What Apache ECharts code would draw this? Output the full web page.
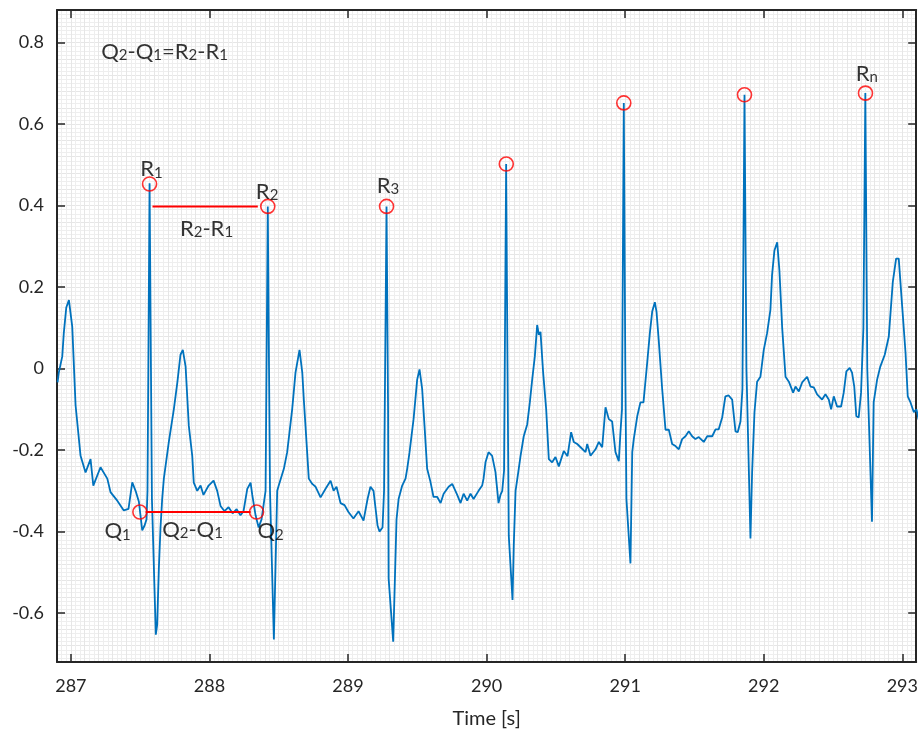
<!DOCTYPE html>
<html>
<head>
<meta charset="utf-8">
<script src="https://cdn.jsdelivr.net/npm/echarts@6/dist/echarts.min.js"></script>
<style>
html, body { margin: 0; padding: 0; background: #fff; }
#main { width: 921px; height: 734px; }
</style>
</head>
<body>
<div id="main"></div>
<script>
// ECG trace
var time = [
	286.904, 286.913, 286.938, 286.949, 286.967, 286.986, 287.010, 287.034, 287.070, 287.106,
	287.142, 287.162, 287.214, 287.263, 287.286, 287.335, 287.382, 287.416, 287.443, 287.467,
	287.491, 287.515, 287.532, 287.546, 287.553, 287.568, 287.578, 287.585, 287.613, 287.623,
	287.635, 287.647, 287.659, 287.671, 287.707, 287.743, 287.768, 287.791, 287.808, 287.828,
	287.851, 287.876, 287.887, 287.912, 287.936, 287.957, 287.994, 288.030, 288.056, 288.080,
	288.109, 288.138, 288.167, 288.196, 288.224, 288.246, 288.273, 288.297, 288.309, 288.333,
	288.355, 288.376, 288.405, 288.421, 288.430, 288.437, 288.465, 288.489, 288.500, 288.537,
	288.561, 288.597, 288.621, 288.650, 288.670, 288.681, 288.693, 288.717, 288.742, 288.766,
	288.802, 288.838, 288.874, 288.896, 288.917, 288.946, 288.975, 289.003, 289.039, 289.076,
	289.112, 289.141, 289.162, 289.184, 289.213, 289.227, 289.249, 289.260, 289.278, 289.289,
	289.293, 289.326, 289.350, 289.365, 289.391, 289.415, 289.427, 289.444, 289.473, 289.499,
	289.516, 289.535, 289.552, 289.571, 289.595, 289.617, 289.644, 289.668, 289.690, 289.726,
	289.752, 289.762, 289.788, 289.812, 289.834, 289.860, 289.884, 289.906, 289.942, 289.968,
	289.978, 289.992, 290.014, 290.040, 290.064, 290.086, 290.100, 290.113, 290.126, 290.141,
	290.151, 290.160, 290.178, 290.187, 290.196, 290.209, 290.232, 290.245, 290.268, 290.293,
	290.312, 290.329, 290.348, 290.365, 290.377, 290.389, 290.408, 290.430, 290.449, 290.473,
	290.497, 290.521, 290.557, 290.584, 290.610, 290.629, 290.654, 290.678, 290.714, 290.726,
	290.750, 290.786, 290.810, 290.834, 290.858, 290.882, 290.906, 290.930, 290.954, 290.966,
	290.977, 290.990, 291.001, 291.009, 291.038, 291.051, 291.062, 291.087, 291.110, 291.132,
	291.159, 291.178, 291.195, 291.214, 291.226, 291.242, 291.267, 291.291, 291.315, 291.339,
	291.363, 291.387, 291.411, 291.435, 291.459, 291.483, 291.507, 291.531, 291.567, 291.592,
	291.628, 291.652, 291.675, 291.700, 291.723, 291.747, 291.772, 291.796, 291.812, 291.832,
	291.846, 291.861, 291.875, 291.904, 291.916, 291.933, 291.952, 291.976, 292.000, 292.024,
	292.048, 292.060, 292.077, 292.097, 292.113, 292.133, 292.157, 292.181, 292.212, 292.229,
	292.253, 292.277, 292.313, 292.337, 292.361, 292.385, 292.421, 292.445, 292.469, 292.486,
	292.505, 292.529, 292.558, 292.577, 292.596, 292.620, 292.637, 292.653, 292.668, 292.685,
	292.702, 292.719, 292.733, 292.747, 292.781, 292.793, 292.818, 292.841, 292.873, 292.902,
	292.931, 292.955, 292.974, 292.999, 293.023, 293.039, 293.059, 293.083, 293.102, 293.117
];
var ecg = [
	-0.034, -0.010, 0.030, 0.087, 0.150, 0.168, 0.103, -0.090, -0.214, -0.255,
	-0.222, -0.287, -0.242, -0.270, -0.303, -0.324, -0.348, -0.344, -0.279, -0.300,
	-0.327, -0.397, -0.385, -0.370, -0.300, 0.455, 0.000, -0.320, -0.653, -0.628,
	-0.490, -0.390, -0.320, -0.270, -0.180, -0.100, -0.035, 0.034, 0.046, 0.005,
	-0.140, -0.214, -0.280, -0.300, -0.287, -0.310, -0.287, -0.275, -0.300, -0.337,
	-0.350, -0.340, -0.355, -0.345, -0.360, -0.350, -0.295, -0.280, -0.310, -0.360,
	-0.390, -0.370, -0.300, 0.398, 0.000, -0.300, -0.665, -0.300, -0.287, -0.246,
	-0.205, -0.100, -0.010, 0.046, -0.010, -0.076, -0.140, -0.270, -0.283, -0.290,
	-0.316, -0.295, -0.275, -0.300, -0.290, -0.330, -0.335, -0.352, -0.368, -0.350,
	-0.373, -0.320, -0.290, -0.300, -0.385, -0.400, -0.390, -0.300, 0.398, -0.100,
	-0.515, -0.670, -0.370, -0.320, -0.287, -0.270, -0.246, -0.205, -0.124, -0.027,
	-0.002, -0.050, -0.140, -0.246, -0.278, -0.315, -0.315, -0.330, -0.307, -0.290,
	-0.283, -0.280, -0.310, -0.330, -0.307, -0.324, -0.307, -0.320, -0.300, -0.287,
	-0.270, -0.230, -0.205, -0.214, -0.254, -0.330, -0.310, -0.300, -0.250, 0.502,
	0.000, -0.410, -0.515, -0.568, -0.434, -0.300, -0.246, -0.214, -0.166, -0.137,
	-0.083, -0.027, 0.030, 0.107, 0.083, 0.090, -0.010, -0.100, -0.222, -0.230,
	-0.217, -0.240, -0.202, -0.215, -0.156, -0.180, -0.185, -0.193, -0.205, -0.185,
	-0.214, -0.198, -0.180, -0.193, -0.095, -0.124, -0.130, -0.205, -0.227, -0.156,
	-0.100, 0.652, 0.000, -0.320, -0.478, -0.205, -0.173, -0.117, -0.083, -0.083,
	0.015, 0.087, 0.140, 0.163, 0.140, 0.070, -0.050, -0.150, -0.150, -0.185,
	-0.190, -0.198, -0.173, -0.166, -0.154, -0.166, -0.173, -0.168, -0.180, -0.166,
	-0.166, -0.149, -0.149, -0.120, -0.068, -0.066, -0.076, -0.154, -0.156, -0.130,
	-0.050, 0.672, 0.000, -0.417, -0.254, -0.107, -0.032, -0.020, 0.046, 0.087,
	0.144, 0.230, 0.290, 0.310, 0.240, 0.100, -0.020, -0.032, -0.059, -0.044,
	-0.056, -0.034, -0.020, -0.044, -0.046, -0.063, -0.076, -0.063, -0.076, -0.100,
	-0.068, -0.093, -0.093, -0.059, -0.007, 0.002, -0.010, -0.044, -0.117, -0.120,
	-0.059, 0.100, 0.676, 0.000, -0.376, -0.083, -0.027, 0.005, 0.034, 0.078,
	0.212, 0.270, 0.270, 0.152, 0.039, -0.068, -0.083, -0.107, -0.100, -0.125
];

// marked R peaks and Q points
var rTime = [287.568, 288.421, 289.278, 290.142, 290.990, 291.861, 292.734];
var rValue = [0.453, 0.398, 0.398, 0.502, 0.652, 0.672, 0.676];
var qTime = [287.498, 288.340];
var qValue = [-0.352, -0.352];

// interval bars
var rrTime = [287.589, 288.349];
var rrValue = [0.398, 0.398];
var qqTime = [287.539, 288.297];
var qqValue = [-0.352, -0.352];

// annotations ("_n" = subscript)
var noteText = ['Q_2-Q_1=R_2-R_1', 'R_1', 'R_2', 'R_2-R_1', 'R_3', 'R_n', 'Q_1', 'Q_2-Q_1', 'Q_2'];
var noteTime = [287.676, 287.582, 288.416, 287.979, 289.289, 292.744, 287.337, 287.878, 288.441];
var noteValue = [0.783, 0.495, 0.440, 0.349, 0.455, 0.730, -0.393, -0.390, -0.393];

var xTicks = [287, 288, 289, 290, 291, 292, 293];
var yTicks = [-0.6, -0.4, -0.2, 0, 0.2, 0.4, 0.6, 0.8];
var xName = 'Time [s]';

function zip(a, b) {
	var out = [];
	for(var i = 0; i < a.length; i++) {
		out.push([a[i], b[i]]);
	}
	return out;
}

function toRich(s) {
	return s.replace(/([^_]+?)(?=_|$)|_(\w)/g, function(m, txt, sub) {
		if(sub) return '{s|' + sub + '}';
		return '{m|' + txt + '}';
	});
}

var notes = [];
for(var i = 0; i < noteText.length; i++) {
	notes.push({ value: [noteTime[i], noteValue[i]], txt: noteText[i] });
}

var axisDark = '#262626';
var xMin = 286.9, xMax = 293.1, yMin = -0.72, yMax = 0.88;
var labelFont = 'Lato, "Open Sans", sans-serif';

var myChart = echarts.init(document.getElementById('main'));
var option = {
	animation: false,
	backgroundColor: '#fff',
	grid: { left: 57, right: 4, top: 10, bottom: 71 },
	xAxis: [{
		type: 'value', min: xMin, max: xMax, position: 'bottom',
		name: xName, nameLocation: 'middle', nameGap: 47,
		nameTextStyle: { color: axisDark, fontSize: 20, fontFamily: labelFont },
		axisLine: { show: true, onZero: false, lineStyle: { color: axisDark, width: 2 } },
		axisTick: { show: true, inside: true, length: 8, customValues: xTicks, lineStyle: { color: axisDark, width: 1.5 } },
		axisLabel: { show: true, customValues: xTicks, margin: 15, color: axisDark, fontSize: 18, fontFamily: labelFont },
		splitLine: { show: true, lineStyle: { color: '#d4d4d4', width: 1 } }
	}, {
		// fine grid
		type: 'value', min: xMin, max: xMax, interval: 0.1, position: 'bottom',
		axisLine: { show: false }, axisTick: { show: false }, axisLabel: { show: false },
		splitLine: { show: true, lineStyle: { color: '#e6e6e6', width: 1 } },
		minorTick: { show: false, splitNumber: 3 },
		minorSplitLine: { show: true, lineStyle: { color: '#eeeeee', width: 1 } }
	}, {
		type: 'value', min: xMin, max: xMax, position: 'top',
		axisLine: { show: true, onZero: false, lineStyle: { color: axisDark, width: 2 } },
		axisTick: { show: true, inside: true, length: 8, customValues: xTicks, lineStyle: { color: axisDark, width: 1.5 } },
		axisLabel: { show: false },
		splitLine: { show: false }
	}],
	yAxis: [{
		type: 'value', min: yMin, max: yMax, position: 'left',
		axisLine: { show: true, onZero: false, lineStyle: { color: axisDark, width: 2 } },
		axisTick: { show: true, inside: true, length: 8, customValues: yTicks, lineStyle: { color: axisDark, width: 1.5 } },
		axisLabel: {
			show: true, customValues: yTicks, margin: 13, color: axisDark, fontSize: 18, fontFamily: labelFont,
			formatter: function(v) { return String(Math.round(v * 10) / 10); }
		},
		splitLine: { show: true, lineStyle: { color: '#d4d4d4', width: 1 } }
	}, {
		type: 'value', min: yMin, max: yMax, interval: 0.04, position: 'left',
		axisLine: { show: false }, axisTick: { show: false }, axisLabel: { show: false },
		splitLine: { show: true, lineStyle: { color: '#e6e6e6', width: 1 } },
		minorTick: { show: false, splitNumber: 4 },
		minorSplitLine: { show: true, lineStyle: { color: '#eeeeee', width: 1 } }
	}, {
		type: 'value', min: yMin, max: yMax, position: 'right',
		axisLine: { show: true, onZero: false, lineStyle: { color: axisDark, width: 2 } },
		axisTick: { show: true, inside: true, length: 8, customValues: yTicks, lineStyle: { color: axisDark, width: 1.5 } },
		axisLabel: { show: false },
		splitLine: { show: false }
	}],
	series: [{
		name: 'ECG',
		type: 'line',
		data: zip(time, ecg),
		showSymbol: false,
		clip: true,
		lineStyle: { color: '#0072BD', width: 1.8 },
		z: 2
	}, {
		name: 'RR',
		type: 'line',
		data: zip(rrTime, rrValue),
		showSymbol: false,
		lineStyle: { color: '#ff0000', width: 2 },
		z: 3
	}, {
		name: 'QQ',
		type: 'line',
		data: zip(qqTime, qqValue),
		showSymbol: false,
		lineStyle: { color: '#ff0000', width: 2 },
		z: 3
	}, {
		name: 'R',
		type: 'scatter',
		data: zip(rTime, rValue).concat(zip(qTime, qValue)),
		symbol: 'circle',
		symbolSize: 14,
		itemStyle: { color: 'rgba(0,0,0,0)', borderColor: '#ff0000', borderWidth: 1.6 },
		z: 4
	}, {
		name: 'notes',
		type: 'scatter',
		data: notes,
		symbolSize: 1,
		itemStyle: { color: 'rgba(0,0,0,0)' },
		label: {
			show: true,
			position: 'inside',
			formatter: function(p) { return toRich(p.data.txt); },
			rich: {
				m: { fontSize: 22, lineHeight: 27, color: '#000', fontFamily: labelFont, verticalAlign: 'bottom' },
				s: { fontSize: 15, lineHeight: 21, color: '#000', fontFamily: labelFont, verticalAlign: 'bottom' }
			}
		},
		z: 5
	}]
};
myChart.setOption(option);
</script>
</body>
</html>
